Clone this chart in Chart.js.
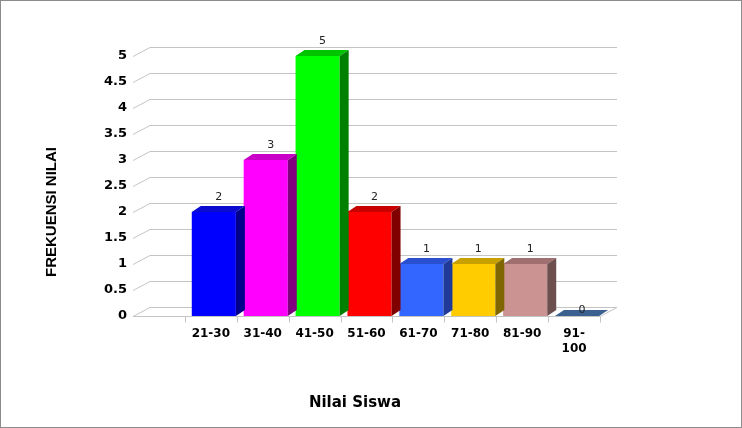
<!DOCTYPE html>
<html>
<head>
<meta charset="utf-8">
<script src="https://cdn.jsdelivr.net/npm/chart.js@4/dist/chart.umd.min.js"></script>
<style>
html, body { margin: 0; padding: 0; background: #fff; }
#wrap { width: 742px; height: 428px; box-sizing: border-box; border: 1px solid #8c8c8c; }
canvas { display: block; }
</style>
</head>
<body>
<div id="wrap"><canvas id="myChart" width="740" height="426"></canvas></div>
<script>
// data
var kategori = ['', '21-30', '31-40', '41-50', '51-60', '61-70', '71-80', '81-90', ['91-', '100']];
var frekuensi = [null, 2, 3, 5, 2, 1, 1, 1, 0];
var yTicks = [0, 0.5, 1, 1.5, 2, 2.5, 3, 3.5, 4, 4.5, 5];

var warnaDepan   = ['#000000', '#0000ff', '#ff00ff', '#00ff00', '#ff0000', '#3366ff', '#ffcc00', '#cc9393', '#3a6090'];
var warnaAtas    = ['#000000', '#0a0ad0', '#c800c8', '#00c400', '#c80000', '#2a50d0', '#c8a000', '#a07070', '#3a6090'];
var warnaSamping = ['#000000', '#00008c', '#800080', '#008000', '#800000', '#1f3a99', '#806600', '#6e4f4f', '#2a4870'];

// depth of the 3d wall and of the bars
var wallDx = 17, wallDy = -9;
var barDx = 9, barDy = -6;
var barShift = 3; // bars sit a little right of the category centre

var plot3d = {
    id: 'plot3d',
    beforeDatasetsDraw: function (chart) {
        var ctx = chart.ctx;
        var a = chart.chartArea;
        var y = chart.scales.y;
        ctx.save();
        ctx.lineWidth = 1;
        ctx.strokeStyle = '#c4c4c4';
        yTicks.forEach(function (t) {
            var py = Math.round(y.getPixelForValue(t)) + 0.5;
            ctx.beginPath();
            ctx.moveTo(a.left, py);
            ctx.lineTo(a.left + wallDx, py + wallDy);
            ctx.lineTo(a.right + wallDx, py + wallDy);
            ctx.stroke();
        });
        // floor
        var by = Math.round(y.getPixelForValue(0)) + 0.5;
        ctx.beginPath();
        ctx.moveTo(a.left, by);
        ctx.lineTo(a.right, by);
        ctx.lineTo(a.right + wallDx, by + wallDy);
        ctx.stroke();
        // category ticks under the floor
        var w = (a.right - a.left) / kategori.length;
        for (var i = 1; i <= kategori.length; i++) {
            var px = Math.round(a.left + i * w) + 0.5;
            ctx.beginPath();
            ctx.moveTo(px, by);
            ctx.lineTo(px, by + 6);
            ctx.stroke();
        }
        ctx.restore();
        // shift the front faces
        ctx.save();
        ctx.translate(barShift, 0);
    },
    afterDatasetsDraw: function (chart) {
        var ctx = chart.ctx;
        ctx.restore();
        var meta = chart.getDatasetMeta(0);
        ctx.save();
        meta.data.forEach(function (bar, i) {
            var v = frekuensi[i];
            if (v === null) return;
            var cx = bar.x + barShift;
            var l = cx - bar.width / 2, r = cx + bar.width / 2;
            var top = bar.y, base = bar.base;
            // top face
            ctx.fillStyle = warnaAtas[i];
            ctx.beginPath();
            ctx.moveTo(l, top);
            ctx.lineTo(l + barDx, top + barDy);
            ctx.lineTo(r + barDx, top + barDy);
            ctx.lineTo(r, top);
            ctx.closePath();
            ctx.fill();
            // side face
            if (v > 0) {
                ctx.fillStyle = warnaSamping[i];
                ctx.beginPath();
                ctx.moveTo(r, top);
                ctx.lineTo(r + barDx, top + barDy);
                ctx.lineTo(r + barDx, base + barDy);
                ctx.lineTo(r, base);
                ctx.closePath();
                ctx.fill();
            }
            // value label
            ctx.fillStyle = '#222';
            ctx.font = '11px "DejaVu Sans"';
            ctx.textAlign = 'center';
            ctx.textBaseline = 'middle';
            ctx.fillText(String(v), cx + 5, v > 0 ? top - 15 : top - 6);
        });

        // axis titles
        ctx.fillStyle = '#000';
        ctx.textAlign = 'center';
        ctx.textBaseline = 'middle';
        ctx.font = 'bold 15px "DejaVu Sans"';
        ctx.fillText('Nilai Siswa', 354, 402);
        ctx.translate(51, 211);
        ctx.rotate(-Math.PI / 2);
        ctx.font = 'bold 15px "Liberation Sans"';
        ctx.fillText('FREKUENSI NILAI', 0, 0);
        ctx.restore();
    }
};

var ctx = document.getElementById('myChart').getContext('2d');

var mychart = new Chart(ctx, {
    type: 'bar',
    data: {
        labels: kategori,
        datasets: [{
            data: frekuensi,
            backgroundColor: warnaDepan,
            borderWidth: 0,
            barPercentage: 0.85,
            categoryPercentage: 1
        }]
    },
    options: {
        responsive: false,
        animation: false,
        layout: {
            padding: { left: 0, top: 55, right: 141, bottom: 0 }
        },
        plugins: {
            legend: { display: false },
            tooltip: { enabled: false }
        },
        scales: {
            x: {
                grid: { display: false, drawTicks: false },
                border: { display: false },
                ticks: {
                    color: '#000',
                    padding: 11,
                    maxRotation: 0,
                    autoSkip: false,
                    font: { family: 'DejaVu Sans', size: 12, weight: 'bold' }
                },
                afterFit: function (scale) { scale.height = 111; }
            },
            y: {
                min: 0,
                max: 5,
                grid: { display: false, drawTicks: false },
                border: { display: false },
                ticks: {
                    stepSize: 0.5,
                    color: '#000',
                    padding: 6,
                    font: { family: 'DejaVu Sans', size: 13, weight: 'bold' },
                    callback: function (value) { return String(value); }
                },
                afterFit: function (scale) { scale.width = 132; }
            }
        }
    },
    plugins: [plot3d]
});
</script>
</body>
</html>
